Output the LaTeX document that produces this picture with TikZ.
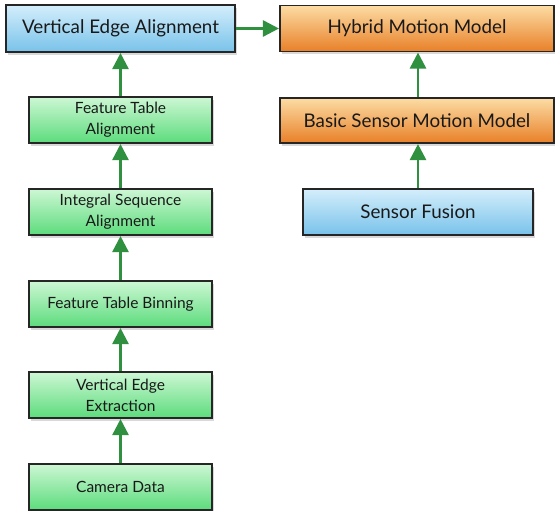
\documentclass[tikz,border=0pt]{standalone}
\usepackage{fontspec}
\setmainfont{Lato}
\usetikzlibrary{shadows,arrows.meta}
\definecolor{bluetop}{HTML}{D4EEFB}
\definecolor{bluebot}{HTML}{78C2EA}
\definecolor{greentop}{HTML}{CDF7D4}
\definecolor{greenbot}{HTML}{5CDC7C}
\definecolor{orangetop}{HTML}{FCDCA4}
\definecolor{orangebot}{HTML}{E88028}
\definecolor{arrowgreen}{HTML}{2F9140}
\tikzset{
  box/.style={draw=black!85, line width=1.1pt, inner sep=0pt, align=center, text=black!90,
    drop shadow={opacity=0.3, shadow xshift=2pt, shadow yshift=-3pt}},
  bluebox/.style={box, top color=bluetop, bottom color=bluebot},
  greenbox/.style={box, top color=greentop, bottom color=greenbot, minimum width=183pt, minimum height=46pt, font=\fontsize{15.5}{21}\selectfont},
  orangebox/.style={box, top color=orangetop, bottom color=orangebot},
  bigtext/.style={font=\fontsize{18.8}{22}\selectfont},
  flow/.style={draw=arrowgreen, line width=2.6pt, -{Triangle[length=16pt,width=16pt]}, shorten >=0.5pt}
}
\begin{document}
\begin{tikzpicture}[x=1pt,y=1pt]
\useasboundingbox (0,0) rectangle (555,511);
\node[bluebox, bigtext, minimum width=229pt, minimum height=47pt] (vea) at (120.5,482.5) {Vertical Edge Alignment};
\node[orangebox, bigtext, minimum width=274pt, minimum height=46pt] (hmm) at (417,482.5) {Hybrid Motion Model};
\node[orangebox, bigtext, minimum width=274pt, minimum height=45pt] (bsmm) at (417,390.5) {Basic Sensor Motion Model};
\node[bluebox, bigtext, minimum width=230pt, minimum height=46pt] (sf) at (418,299) {Sensor Fusion};
\node[greenbox] (fta) at (120.5,391) {Feature Table\\Alignment};
\node[greenbox] (isa) at (120.5,299) {Integral Sequence\\Alignment};
\node[greenbox] (ftb) at (120.5,207) {Feature Table Binning};
\node[greenbox] (vee) at (120.5,116) {Vertical Edge\\Extraction};
\node[greenbox] (cd) at (120.5,24) {Camera Data};
\draw[flow] (cd) -- (vee);
\draw[flow] (vee) -- (ftb);
\draw[flow] (ftb) -- (isa);
\draw[flow] (isa) -- (fta);
\draw[flow] (fta) -- (vea);
\draw[flow] (vea) -- (hmm);
\draw[flow] (sf.north) -- (sf.north |- bsmm.south);
\draw[flow] (bsmm.north -| sf.north) -- (sf.north |- hmm.south);
\end{tikzpicture}
\end{document}
